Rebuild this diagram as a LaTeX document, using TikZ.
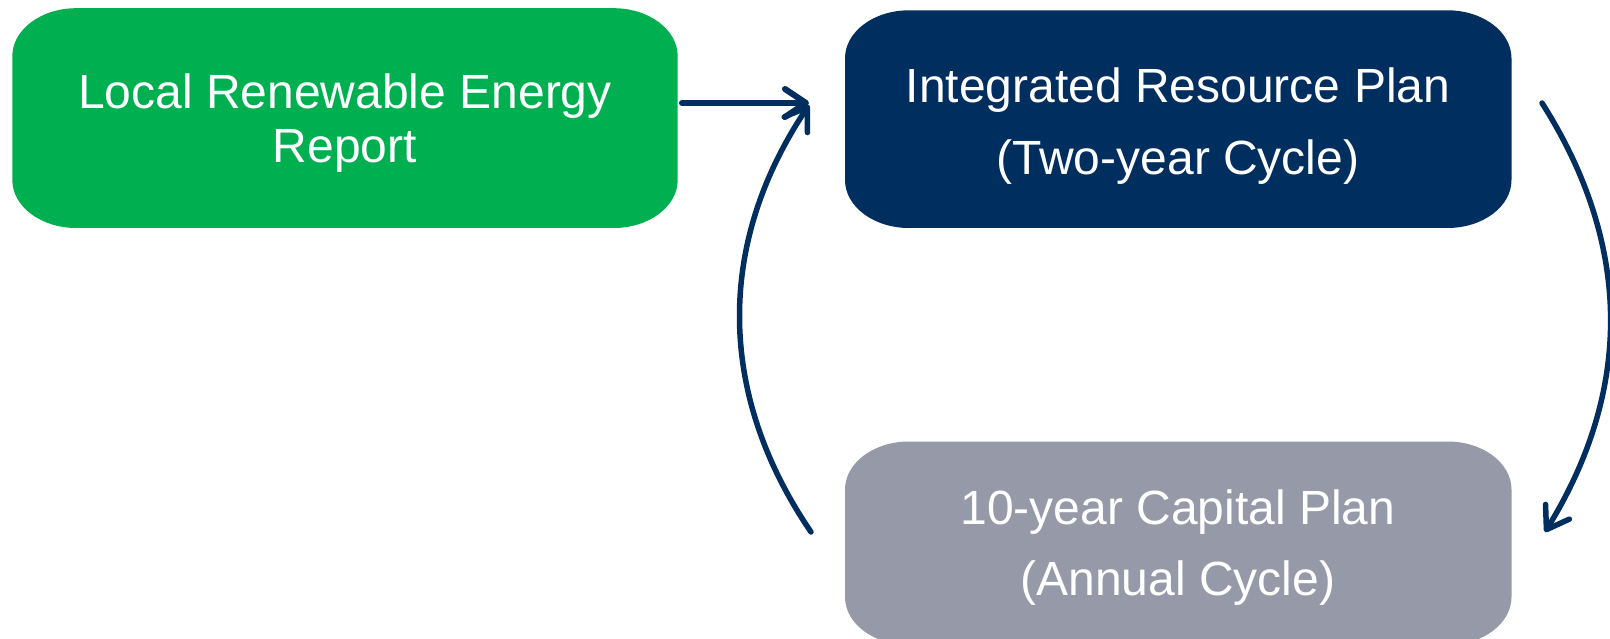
\documentclass[tikz,border=0pt]{standalone}
\usepackage{fontspec}
\setmainfont{Liberation Sans}
\usetikzlibrary{arrows.meta}
\definecolor{boxgreen}{HTML}{00B050}
\definecolor{navy}{HTML}{002E5E}
\definecolor{boxgrey}{HTML}{969AA8}
\newcommand\ellbox[5]{%
  \fill[#5] (#1+64,#2) -- (#3-64,#2)
    .. controls (#3-28.7,#2) and (#3,#2+21.5) .. (#3,#2+48)
    -- (#3,#4-48)
    .. controls (#3,#4-21.5) and (#3-28.7,#4) .. (#3-64,#4)
    -- (#1+64,#4)
    .. controls (#1+28.7,#4) and (#1,#4-21.5) .. (#1,#4-48)
    -- (#1,#2+48)
    .. controls (#1,#2+21.5) and (#1+28.7,#2) .. (#1+64,#2) -- cycle;}
\tikzset{
  label text/.style={text=white, align=center, inner sep=0pt},
  arr/.style={draw=navy, line width=5.5pt, line cap=round,
    -{Straight Barb[length=21pt,width=28pt,round]}},
}
\begin{document}
\begin{tikzpicture}[x=1pt,y=-1pt]
\useasboundingbox (0,0) rectangle (1610,639);
\fill[white] (0,0) rectangle (1610,639);
\ellbox{12.3}{8.2}{677.7}{228}{boxgreen}
\ellbox{845}{10.3}{1511.5}{228}{navy}
\ellbox{845}{441.5}{1511.5}{645}{boxgrey}
\node[label text, font=\fontsize{48}{54}\selectfont] (lre) at (345,123) {Local Renewable Energy\\Report};
\node[label text, font=\fontsize{48}{72}\selectfont] (irp) at (1178,126) {Integrated Resource Plan\\(Two-year Cycle)};
\node[label text, font=\fontsize{48}{71}\selectfont] (cap) at (1178,548) {10-year Capital Plan\\(Annual Cycle)};
\coordinate (h1) at (682,103);
\coordinate (h2) at (809,103);
\coordinate (l1) at (811,532);
\coordinate (l2) at (809,105);
\coordinate (r1) at (1542,103);
\coordinate (r2) at (1545,532);
\draw[arr, line width=6pt] (h1) -- (h2);
\draw[arr] (l1) to[bend left=34] (l2);
\draw[arr] (r1) to[bend left=32] (r2);
\end{tikzpicture}
\end{document}
